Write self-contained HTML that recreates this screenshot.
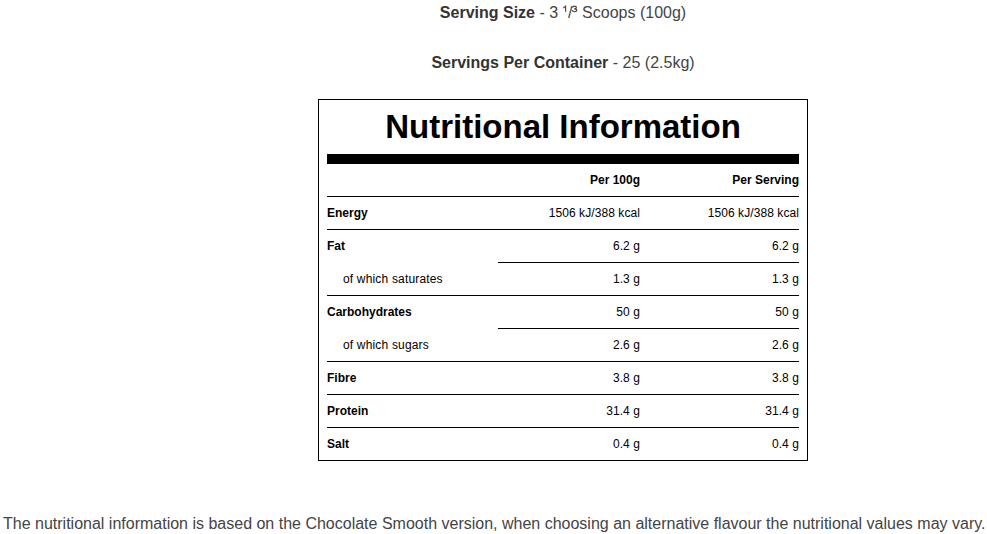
<!DOCTYPE html>
<html>
<head>
<meta charset="utf-8">
<style>
html,body{margin:0;padding:0;background:#fff;}
body{width:987px;height:534px;position:relative;overflow:hidden;font-family:"Liberation Sans",sans-serif;}
.top{position:absolute;left:318px;width:490px;text-align:center;font-size:16px;line-height:20px;color:#444;white-space:nowrap;}
.top b{font-weight:bold;color:#333;}
.sup{display:inline-block;width:5.33px;height:1px;}
.supsvg{position:absolute;left:0;top:0;}
#l1{top:3px;}
#l2{top:53px;}
.box{position:absolute;left:318px;top:99px;width:472px;height:344px;border:1px solid #000;padding:8px;}
.title{font-size:33px;font-weight:bold;text-align:center;line-height:38px;color:#000;white-space:nowrap;margin:0;}
.bar{position:absolute;left:8px;top:54px;width:472px;height:10px;background:#000;}
table{position:absolute;left:8px;top:64px;width:472px;border-collapse:collapse;table-layout:fixed;font-size:12px;color:#000;}
td{height:32px;padding:0;vertical-align:middle;line-height:14px;white-space:nowrap;}
td.c1{width:171px;text-align:left;}
td.c2{width:142px;text-align:right;}
td.c3{width:159px;text-align:right;}
tr.b td{border-top:1px solid #000;}
tr.s td.c2,tr.s td.c3{border-top:1px solid #000;}
tr.s td.c1{border-top:1px solid transparent;padding-left:16px;}
th{font-weight:bold;}
.h td{font-weight:bold;}
td.n{font-weight:bold;}
tr.s td.c1{letter-spacing:0.17px;}
tr.b td.c2,tr.b td.c3,tr.s td.c2,tr.s td.c3{letter-spacing:0.08px;}
.foot{position:absolute;left:3px;top:514px;font-size:16px;line-height:20px;color:#444;white-space:nowrap;}
</style>
</head>
<body>
<div class="top" id="l1"><b>Serving Size</b> - 3 <span class="sup"></span>/<span class="sup"></span> Scoops (100g)</div>
<svg class="supsvg" width="987" height="30" viewBox="0 0 987 30"><g fill="none" stroke="#444" stroke-width="1.15" stroke-linecap="butt" stroke-linejoin="miter">
<path d="M563.2,8.1 L565.6,6.2 L565.6,11.8"/>
<path d="M572.5,7.6 C572.7,6.6 573.5,6.1 574.5,6.1 C575.6,6.1 576.4,6.8 576.4,7.6 C576.4,8.4 575.6,8.9 574.2,8.9 C575.8,8.9 576.7,9.5 576.7,10.3 C576.7,11.2 575.7,11.7 574.5,11.7 C573.3,11.7 572.4,11.1 572.2,10.2"/>
</g></svg>
<div class="top" id="l2"><b>Servings Per Container</b> - 25 (2.5kg)</div>
<div class="box">
  <div class="title">Nutritional Information</div>
  <div class="bar"></div>
  <table>
    <tr class="h"><td class="c1"></td><td class="c2">Per 100g</td><td class="c3">Per Serving</td></tr>
    <tr class="b"><td class="c1 n">Energy</td><td class="c2">1506 kJ/388 kcal</td><td class="c3">1506 kJ/388 kcal</td></tr>
    <tr class="b"><td class="c1 n">Fat</td><td class="c2">6.2 g</td><td class="c3">6.2 g</td></tr>
    <tr class="s"><td class="c1">of which saturates</td><td class="c2">1.3 g</td><td class="c3">1.3 g</td></tr>
    <tr class="b"><td class="c1 n">Carbohydrates</td><td class="c2">50 g</td><td class="c3">50 g</td></tr>
    <tr class="s"><td class="c1">of which sugars</td><td class="c2">2.6 g</td><td class="c3">2.6 g</td></tr>
    <tr class="b"><td class="c1 n">Fibre</td><td class="c2">3.8 g</td><td class="c3">3.8 g</td></tr>
    <tr class="b"><td class="c1 n">Protein</td><td class="c2">31.4 g</td><td class="c3">31.4 g</td></tr>
    <tr class="b"><td class="c1 n">Salt</td><td class="c2">0.4 g</td><td class="c3">0.4 g</td></tr>
  </table>
</div>
<div class="foot">The nutritional information is based on the Chocolate Smooth version, when choosing an alternative flavour the nutritional values may vary.</div>
</body>
</html>
